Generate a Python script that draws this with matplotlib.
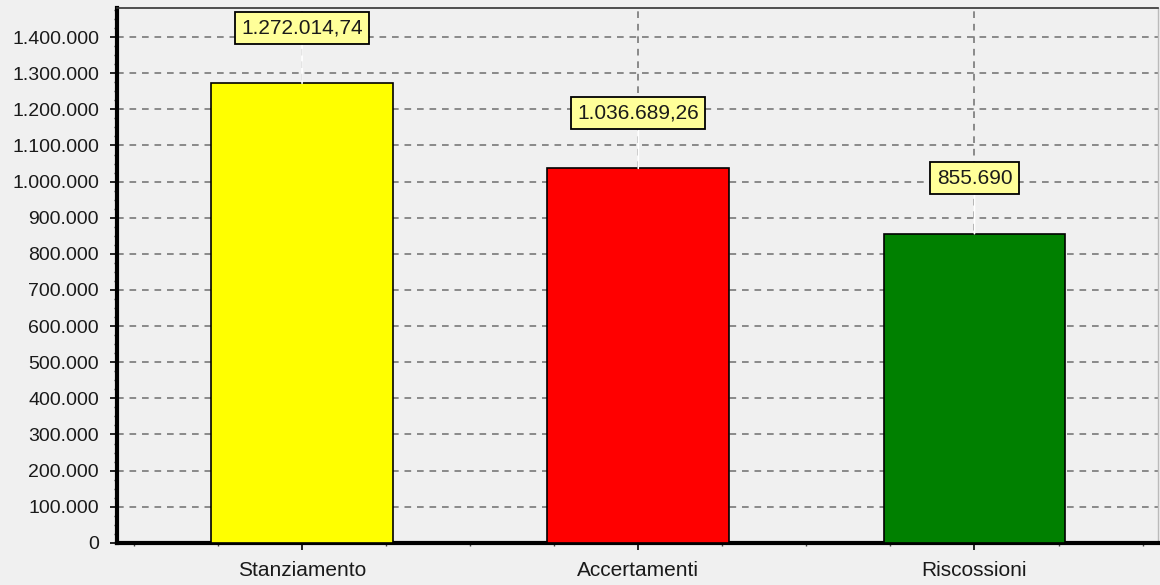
import matplotlib.pyplot as plt
import numpy as np
from matplotlib.ticker import FuncFormatter, MultipleLocator

categories = ["Stanziamento", "Accertamenti", "Riscossioni"]
values = [1272014.74, 1036689.26, 855690]
value_labels = ["1.272.014,74", "1.036.689,26", "855.690"]
bar_colors = ["#ffff00", "#ff0000", "#008000"]

plt.rcParams["font.family"] = ["Liberation Sans", "DejaVu Sans"]
bg = "#f0f0f0"


def it_thousands(v, pos):
    return "{:,.0f}".format(v).replace(",", ".")


fig = plt.figure(figsize=(11.6, 5.85), dpi=100, facecolor=bg)
ax = fig.add_axes([0.101, 0.072, 0.897, 0.914], facecolor=bg)

x = np.arange(len(categories))
ax.bar(x, values, width=0.54, color=bar_colors, edgecolor="black",
       linewidth=1.2, zorder=3)

# value labels above bars, joined by a white stem
for xi, v, lab in zip(x, values, value_labels):
    ax.annotate(lab, xy=(xi, v), xytext=(0, 40), textcoords="offset points",
                ha="center", va="center", fontsize=15, color="#1a1a1a",
                bbox=dict(boxstyle="square,pad=0.3", fc="#ffff99",
                          ec="black", lw=1.3),
                arrowprops=dict(arrowstyle="-", color="white", lw=1.2,
                                shrinkA=0, shrinkB=0),
                zorder=5)

ax.set_xlim(-0.55, 2.545)
ax.set_ylim(0, 1480000)
ax.set_xticks(x)
ax.set_xticklabels(categories)
ax.xaxis.set_minor_locator(MultipleLocator(0.25))
ax.yaxis.set_major_locator(MultipleLocator(100000))
ax.yaxis.set_minor_locator(MultipleLocator(25000))
ax.yaxis.set_major_formatter(FuncFormatter(it_thousands))

ax.grid(True, which="major", color="#787878", linestyle=(0, (4, 3.5)),
        linewidth=1.2, zorder=0)

ax.tick_params(axis="both", which="major", colors="black",
               labelcolor="#1a1a1a", length=5, width=1.2, direction="out")
ax.tick_params(axis="y", which="major", labelsize=14, pad=8)
ax.tick_params(axis="x", which="major", labelsize=15, pad=8)
ax.tick_params(which="minor", length=2.5, width=1, color="#444444")

ax.spines["left"].set_linewidth(3)
ax.spines["bottom"].set_linewidth(3)
ax.spines["left"].set_color("black")
ax.spines["bottom"].set_color("black")
ax.spines["top"].set_linewidth(1.2)
ax.spines["top"].set_color("#333333")
ax.spines["right"].set_linewidth(1)
ax.spines["right"].set_color("#bbbbbb")

fig.savefig("out.png", dpi=100, facecolor=bg)
